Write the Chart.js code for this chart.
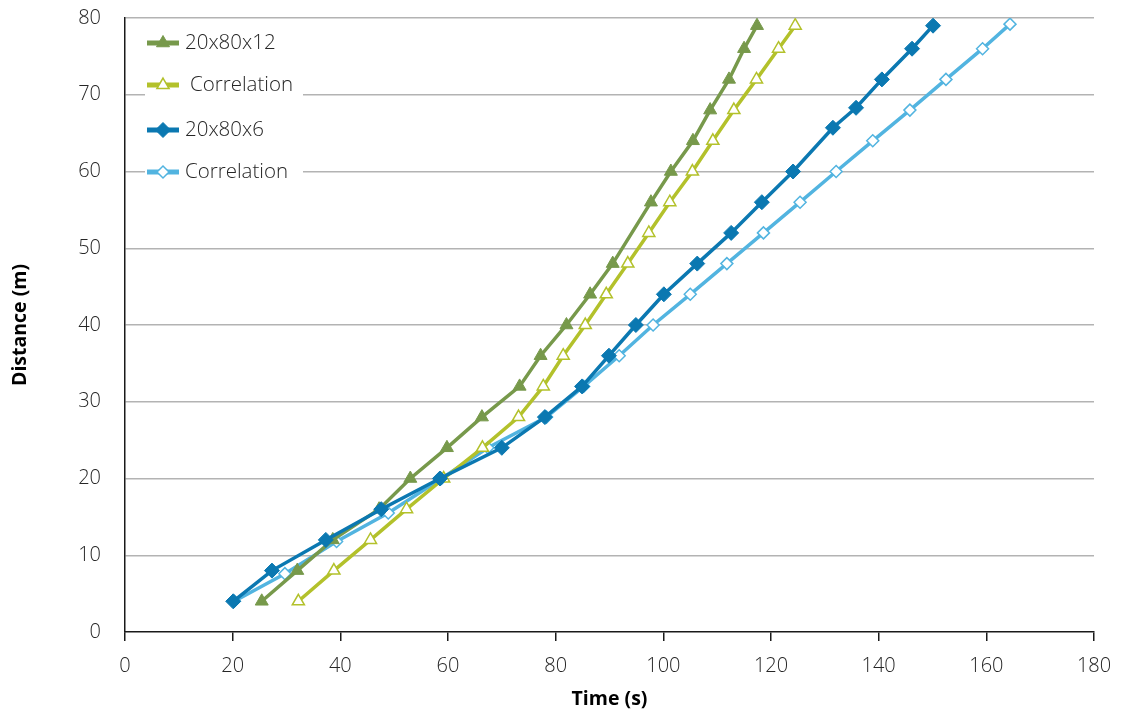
<!DOCTYPE html>
<html lang="en">
<head>
    <meta charset="UTF-8">
    <title>Distance vs Time</title>
    <script src="https://cdn.jsdelivr.net/npm/chart.js"></script>
    <style>
        body { margin: 0; background: #fff; }
        #wrap { width: 1124px; height: 712px; }
    </style>
</head>
<body>
    <div id="wrap"><canvas id="myChart" width="1124" height="712"></canvas></div>
    <script>
        // series values
        const green12Time = [25.4, 32.0, 38.6, 47.2, 53.0, 59.8, 66.3, 73.3, 77.2, 82.0, 86.4, 90.6, 97.7, 101.4, 105.5, 108.7, 112.2, 115.0, 117.4];
        const green12Dist = [4, 8, 12, 16, 20, 24, 28, 32, 36, 40, 44, 48, 56, 60, 64, 68, 72, 76, 79];

        const corr12Time = [32.2, 38.8, 45.6, 52.3, 59.2, 66.4, 73.1, 77.7, 81.4, 85.5, 89.4, 93.4, 97.3, 101.2, 105.4, 109.2, 113.1, 117.3, 121.4, 124.5];
        const corr12Dist = [4, 8, 12, 16, 20, 24, 28, 32, 36, 40, 44, 48, 52, 56, 60, 64, 68, 72, 76, 79];

        const blue6Time = [20.1, 27.3, 37.3, 47.6, 58.5, 70.0, 78.0, 84.9, 89.9, 94.9, 100.1, 106.3, 112.6, 118.3, 124.1, 131.5, 135.8, 140.6, 146.2, 150.1];
        const blue6Dist = [4, 8, 12, 16, 20, 24, 28, 32, 36, 40, 44, 48, 52, 56, 60, 65.7, 68.3, 72, 76, 79];

        const corr6Time = [20.3, 29.7, 39.3, 48.9, 58.8, 67.4, 78.3, 85.2, 91.8, 98.1, 105.0, 111.8, 118.6, 125.4, 132.1, 138.9, 145.8, 152.5, 159.3, 164.4];
        const corr6Dist = [4, 7.6, 11.8, 15.5, 20, 24, 28, 32, 36, 40, 44, 48, 52, 56, 60, 64, 68, 72, 76, 79.2];

        const seriesLabels = ['20x80x12', 'Correlation', '20x80x6', 'Correlation'];
        const xTicks = [0, 20, 40, 60, 80, 100, 120, 140, 160, 180];
        const yTicks = [0, 10, 20, 30, 40, 50, 60, 70, 80];

        const FONT = "'Open Sans', 'Liberation Sans', sans-serif";

        function pts(xs, ys) {
            return xs.map((x, i) => ({ x: x, y: ys[i] }));
        }

        const datasets = [
            {
                label: seriesLabels[0], data: pts(green12Time, green12Dist),
                borderColor: '#77994b', backgroundColor: '#77994b',
                pointStyle: 'triangle', pointRadius: 7.5, pointBorderWidth: 1,
                pointBackgroundColor: '#77994b', order: 1
            },
            {
                label: seriesLabels[1], data: pts(corr12Time, corr12Dist),
                borderColor: '#b3c12b', backgroundColor: '#ffffff',
                pointStyle: 'triangle', pointRadius: 7, pointBorderWidth: 1.5,
                pointBackgroundColor: '#ffffff', order: 2
            },
            {
                label: seriesLabels[2], data: pts(blue6Time, blue6Dist),
                borderColor: '#0b78b1', backgroundColor: '#0b78b1',
                pointStyle: 'rectRot', pointRadius: 7.5, pointBorderWidth: 1,
                pointBackgroundColor: '#0b78b1', order: 0
            },
            {
                label: seriesLabels[3], data: pts(corr6Time, corr6Dist),
                borderColor: '#52b4e0', backgroundColor: '#ffffff',
                pointStyle: 'rectRot', pointRadius: 6, pointBorderWidth: 1.5,
                pointBackgroundColor: '#ffffff', order: 3
            }
        ];
        datasets.forEach(d => {
            d.borderWidth = 3.5;
            d.tension = 0;
            d.pointBorderColor = d.borderColor;
            d.pointHoverRadius = d.pointRadius;
        });

        // legend drawn inside the plot, top left, on a white box
        const insideLegend = {
            id: 'insideLegend',
            afterDraw(chart) {
                const ctx = chart.ctx;
                const rows = [
                    { y: 43, tx: 185 },
                    { y: 85, tx: 190 },
                    { y: 130, tx: 185 },
                    { y: 172, tx: 185 }
                ];
                ctx.save();
                ctx.fillStyle = '#ffffff';
                ctx.fillRect(145, 22, 158, 172);
                chart.data.datasets.forEach((ds, i) => {
                    const r = rows[i];
                    ctx.strokeStyle = ds.borderColor;
                    ctx.lineWidth = 5;
                    ctx.beginPath();
                    ctx.moveTo(147, r.y);
                    ctx.lineTo(179, r.y);
                    ctx.stroke();
                    ctx.fillStyle = ds.pointBackgroundColor;
                    ctx.strokeStyle = ds.borderColor;
                    ctx.lineWidth = ds.pointBorderWidth;
                    Chart.helpers.drawPoint(ctx, {
                        pointStyle: ds.pointStyle,
                        radius: ds.pointRadius,
                        rotation: 0,
                        borderWidth: ds.pointBorderWidth
                    }, 163, r.y);
                    ctx.fillStyle = '#262626';
                    ctx.font = '300 20.5px ' + FONT;
                    ctx.textBaseline = 'middle';
                    ctx.textAlign = 'left';
                    ctx.fillText(ds.label, r.tx, r.y);
                });
                ctx.restore();
            }
        };

        const ctx = document.getElementById('myChart').getContext('2d');
        new Chart(ctx, {
            type: 'line',
            data: { datasets: datasets },
            plugins: [insideLegend],
            options: {
                responsive: false,
                animation: false,
                layout: { padding: { left: 0, right: 30, top: 18, bottom: 0 } },
                plugins: {
                    legend: { display: false },
                    tooltip: { enabled: false }
                },
                scales: {
                    x: {
                        type: 'linear',
                        min: 0,
                        max: 180,
                        afterFit(scale) {
                            scale.height = 80;
                            scale.paddingLeft = 0;
                            scale.paddingRight = 0;
                        },
                        afterBuildTicks(scale) { scale.ticks = xTicks.map(v => ({ value: v })); },
                        border: { display: true, color: '#1a1a1a', width: 1.5 },
                        grid: {
                            drawOnChartArea: false,
                            drawTicks: true,
                            tickLength: 9,
                            color: '#1a1a1a',
                            lineWidth: 1.5
                        },
                        ticks: {
                            padding: 13,
                            color: '#262626',
                            maxRotation: 0,
                            font: { family: FONT, size: 20, weight: '300' }
                        },
                        title: {
                            display: true,
                            text: 'Time (s)',
                            color: '#000',
                            padding: { top: 0, bottom: 1 },
                            font: { family: FONT, size: 19.5, weight: 'bold' }
                        }
                    },
                    y: {
                        type: 'linear',
                        min: 0,
                        max: 80,
                        afterFit(scale) {
                            scale.width = 125;
                            scale.paddingTop = 0;
                            scale.paddingBottom = 0;
                        },
                        afterBuildTicks(scale) { scale.ticks = yTicks.map(v => ({ value: v })); },
                        border: { display: true, color: '#1a1a1a', width: 1.5 },
                        grid: {
                            drawTicks: false,
                            color: c => c.tick && c.tick.value === 0 ? 'rgba(0,0,0,0)' : '#b3b3b3',
                            lineWidth: 1.5
                        },
                        ticks: {
                            padding: 24,
                            color: '#262626',
                            font: { family: FONT, size: 20, weight: '300' }
                        },
                        title: {
                            display: true,
                            text: 'Distance (m)',
                            color: '#000',
                            padding: { top: 9, bottom: 0 },
                            font: { family: FONT, size: 19.5, weight: 'bold' }
                        }
                    }
                }
            }
        });
    </script>
</body>
</html>
